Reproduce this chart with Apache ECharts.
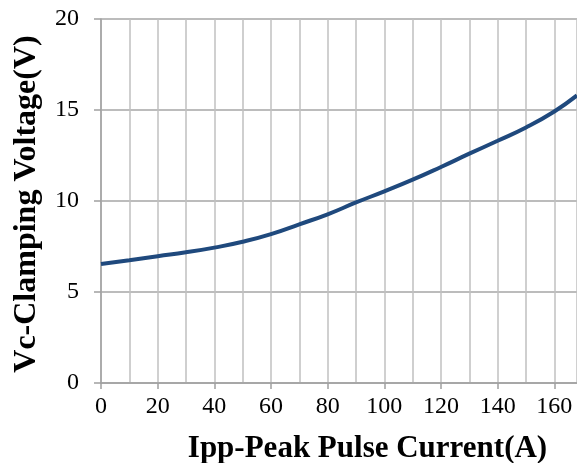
<!DOCTYPE html>
<html>
<head>
<meta charset="utf-8">
<script src="https://cdn.jsdelivr.net/npm/echarts@6/dist/echarts.min.js"></script>
<style>
  html, body { margin: 0; padding: 0; background: #fff; }
  #chart { width: 577px; height: 463px; }
</style>
</head>
<body>
<div id="chart"></div>
<script>
// Ipp (A) vs Vc (V)
const current = [0, 10, 20, 30, 40, 50, 60, 70, 80, 90, 100, 110, 120, 130, 140, 150, 160, 168];
const voltage = [6.54, 6.75, 6.97, 7.18, 7.44, 7.76, 8.18, 8.72, 9.27, 9.92, 10.53, 11.17, 11.87, 12.6, 13.31, 14.04, 14.92, 15.8];

const chart = echarts.init(document.getElementById('chart'));
const font = '"Liberation Serif", "Times New Roman", serif';

chart.setOption({
    animation: false,
    // keep the plot box fixed, v6 would otherwise shrink it to fit names
    grid: { left: 101, top: 19, right: 0, bottom: 80, outerBoundsMode: 'none' },
    xAxis: {
        type: 'value',
        min: 0,
        max: 168,
        interval: 20,
        name: 'Ipp-Peak Pulse Current(A)',
        nameLocation: 'middle',
        nameGap: 50,
        nameTextStyle: {
            fontFamily: font, fontSize: 31, fontWeight: 'bold', color: '#000',
            padding: [0, 0, 0, 57]
        },
        axisLine: { show: true, lineStyle: { color: '#a0a0a0', width: 1.5 } },
        axisTick: { show: true, length: 6, lineStyle: { color: '#a0a0a0', width: 1.5 } },
        axisLabel: {
            fontFamily: font, fontSize: 24, color: '#000', margin: 12,
            showMaxLabel: false
        },
        splitLine: { show: true, lineStyle: { color: '#c0c0c0', width: 1.5 } },
        minorTick: { show: false, splitNumber: 2 },
        minorSplitLine: { show: true, lineStyle: { color: '#c0c0c0', width: 1.5 } }
    },
    yAxis: {
        type: 'value',
        min: 0,
        max: 20,
        interval: 5,
        name: 'Vc-Clamping Voltage(V)',
        nameLocation: 'middle',
        nameGap: 58,
        nameTextStyle: {
            fontFamily: font, fontSize: 32, fontWeight: 'bold', color: '#000',
            padding: [0, 6, 0, 0]
        },
        axisLine: { show: true, lineStyle: { color: '#a0a0a0', width: 1.5 } },
        axisTick: { show: true, length: 7, lineStyle: { color: '#a0a0a0', width: 1.5 } },
        axisLabel: { fontFamily: font, fontSize: 24, color: '#000', margin: 22 },
        splitLine: { show: true, lineStyle: { color: '#a6a6a6', width: 1.5 } }
    },
    series: [{
        type: 'line',
        data: current.map((x, i) => [x, voltage[i]]),
        smooth: true,
        symbol: 'none',
        lineStyle: { color: '#1f497d', width: 4 }
    }]
});
</script>
</body>
</html>
